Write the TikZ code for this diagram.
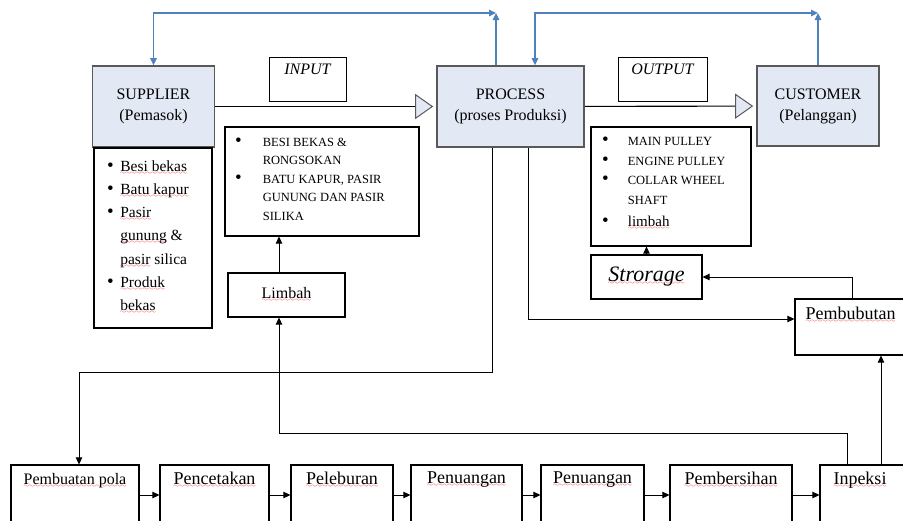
\documentclass[tikz,border=0pt]{standalone}
\usepackage{fontspec}
\setmainfont{Liberation Serif}
\usepackage{tikz}
\usetikzlibrary{arrows.meta, positioning}

\definecolor{boxblue}{RGB}{227,233,244}
\definecolor{edgegray}{RGB}{89,89,89}
\definecolor{linkblue}{RGB}{79,129,189}
% red spelling wave under a word
\font\wavefont=lasy6
\newcommand{\salah}[1]{\setbox0\hbox{#1}\rlap{\textcolor{red}{\lower3pt\hbox to\wd0{\xleaders\hbox{\wavefont\char58}\hfill}}}\box0\relax}
\newcommand{\titik}{{\fontsize{19}{10}\selectfont\textbullet}}

\begin{document}
\begin{tikzpicture}[x=1pt, y=-1pt, >={Triangle[length=7pt, width=6.5pt]},
  topbox/.style={draw=edgegray, line width=1.6pt, fill=boxblue, align=center, font=\fontsize{16}{21}\selectfont},
  labelbox/.style={draw, line width=1pt},
  listbox/.style={draw, line width=1.2pt},
  stepbox/.style={draw, line width=1.2pt, minimum height=60pt},
  steptext/.style={font=\fontsize{18}{20}\selectfont},
  flow/.style={->, line width=0.9pt},
  feedback/.style={draw=linkblue, line width=1.3pt},
  bigtip/.style={-{Triangle[length=18pt, width=25pt, color=edgegray, fill=boxblue, line width=1pt]}, line width=1.1pt, shorten >=3pt}
]
\useasboundingbox (0,0) rectangle (903,520);
\fill[white] (0,0) rectangle (903,520);

% Supplier, Process, Customer
\node[topbox, minimum width=122pt, minimum height=81pt] (supplier) at (153.5,106.5) {SUPPLIER\\(Pemasok)};
\node[topbox, minimum width=147pt, minimum height=81pt] (process) at (510.5,106.5) {PROCESS\\(proses Produksi)};
\node[topbox, minimum width=122pt, minimum height=80pt] (customer) at (818,106) {CUSTOMER\\(Pelanggan)};

% Input / Output labels
\node[labelbox, minimum width=77pt, minimum height=44pt] (inputbox) at (307.5,79) {};
\node[below=4pt of inputbox.north, font=\fontsize{16}{18}\selectfont\itshape] (inputlabel) {INPUT};
\node[labelbox, minimum width=89pt, minimum height=44pt] (outputbox) at (662.5,79) {};
\node[below=4pt of outputbox.north, font=\fontsize{16}{18}\selectfont\itshape] (outputlabel) {OUTPUT};

% Main flow
\draw[bigtip] (supplier) -- (process);
\draw[bigtip] (process) -- (customer);

% Feedback lines on top
\coordinate (pojoka) at (496,13);
\coordinate (pojokb) at (818,13);
\draw[feedback, <->] (supplier.north) |- (pojoka);
\draw[feedback, ->] (process.north -| pojoka) -- (pojoka);
\draw[feedback, <->] ([xshift=24.5pt]process.north) |- (pojokb);
\draw[feedback, ->] (customer.north) -- (pojokb);

% Supplier materials
\node[listbox, minimum width=118pt, minimum height=180pt] (bahan) at (153,238) {};
\node[anchor=north west, inner sep=0pt, font=\fontsize{15.5}{23.3}\selectfont] (bahanteks) at (107,154.5) {%
  \begin{tabular}{@{}l@{\hspace{6.5pt}}l@{}}
  \titik & \salah{Besi bekas}\\
  \titik & \salah{Batu kapur}\\
  \titik & \salah{Pasir}\\
         & \salah{gunung} \&\\
         & \salah{pasir} silica\\
  \titik & \salah{Produk}\\
         & \salah{bekas}
  \end{tabular}};

% Input materials
\node[listbox, minimum width=194pt, minimum height=109pt] (material) at (322,181.5) {};
\node[anchor=north west, inner sep=0pt, font=\fontsize{12.5}{18.5}\selectfont] (materialteks) at (235,133) {%
  \begin{tabular}{@{}l@{\hspace{21pt}}l@{}}
  \titik & BESI BEKAS \&\\
         & RONGSOKAN\\
  \titik & BATU KAPUR, PASIR\\
         & GUNUNG DAN PASIR\\
         & SILIKA
  \end{tabular}};

% Limbah
\node[listbox, minimum width=117pt, minimum height=44pt, font=\fontsize{16}{18}\selectfont, text depth=5pt] (limbah) at (286.5,295) {\salah{Limbah}};
\coordinate (jalurkiri) at (279,433);
\draw[flow] (limbah.north -| jalurkiri) -- (material.south -| jalurkiri);

% Output products
\node[listbox, minimum width=160pt, minimum height=119pt] (hasil) at (671,186.5) {};
\node[anchor=north west, inner sep=0pt, font=\fontsize{12.5}{19.5}\selectfont] (hasilteks) at (602,132) {%
  \begin{tabular}{@{}l@{\hspace{19pt}}l@{}}
  \titik & MAIN PULLEY\\
  \titik & ENGINE PULLEY\\
  \titik & COLLAR WHEEL\\
         & SHAFT\\[3pt]
  \titik & {\fontsize{15}{19.5}\selectfont\salah{limbah}}
  \end{tabular}};

% Storage and Pembubutan
\node[listbox, minimum width=111pt, minimum height=44pt, font=\fontsize{22}{24}\selectfont\itshape] (storage) at (646.5,277) {\salah{Strorage}};
\draw[flow] (storage.north) -- (storage.north |- hasil.south);
\node[listbox, minimum width=115pt, minimum height=56pt] (pembubutan) at (852.5,327) {};
\node[steptext, below=5pt of pembubutan.north, xshift=-2pt] (bubutteks) {\salah{Pembubutan}};
\draw[flow] (pembubutan.north) |- (storage.east);
\draw[flow] ([xshift=17.5pt]process.south) |- ([yshift=8pt]pembubutan.west);

% Production steps
\node[stepbox, minimum width=128pt] (pola) at (75,495) {};
\node[below=5.5pt of pola.north, font=\fontsize{16}{18}\selectfont] (polateks) {\salah{Pembuatan pola}};
\node[stepbox, minimum width=109pt] (cetak) at (214.5,495) {};
\node[steptext, below=4pt of cetak.north] (cetakteks) {\salah{Pencetakan}};
\node[stepbox, minimum width=102pt] (lebur) at (342,495) {};
\node[steptext, below=4pt of lebur.north] (leburteks) {\salah{Peleburan}};
\node[stepbox, minimum width=111pt] (tuanga) at (466.5,495) {};
\node[steptext, below=4pt of tuanga.north] (tuangateks) {\salah{Penuangan}};
\node[stepbox, minimum width=103pt] (tuangb) at (592.5,495) {};
\node[steptext, below=4pt of tuangb.north] (tuangbteks) {\salah{Penuangan}};
\node[stepbox, minimum width=122pt] (bersih) at (731,495) {};
\node[steptext, below=4pt of bersih.north] (bersihteks) {\salah{Pembersihan}};
\node[stepbox, minimum width=90pt] (inpeksi) at (865,495) {};
\node[steptext, below=4pt of inpeksi.north, xshift=-5pt] (inpeksiteks) {\salah{Inpeksi}};

\draw[flow] (pola) -- (cetak);
\draw[flow] (cetak) -- (lebur);
\draw[flow] (lebur) -- (tuanga);
\draw[flow] (tuanga) -- (tuangb);
\draw[flow] (tuangb) -- (bersih);
\draw[flow] (bersih) -- (inpeksi);

% Process down to first step
\coordinate (beloka) at (492,372);
\draw[flow] (process.south -| beloka) -- (beloka) -| ([xshift=4pt]pola.north);

% Inpeksi back to limbah and up to pembubutan
\coordinate (belokb) at (847,433);
\draw[flow] (inpeksi.north -| belokb) -- (belokb) -- (jalurkiri) -- (limbah.south -| jalurkiri);
\coordinate (naik) at ([xshift=16pt]inpeksi.north);
\draw[flow] (naik) -- (naik |- pembubutan.south);
\end{tikzpicture}
\end{document}
